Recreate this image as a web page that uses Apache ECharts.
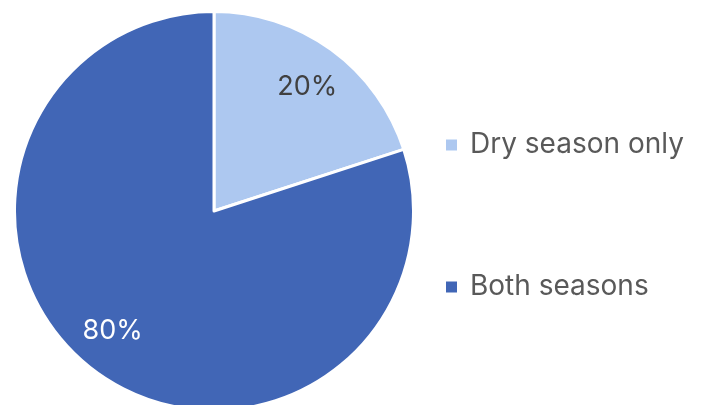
<!DOCTYPE html>
<html><head><meta charset="utf-8">
<script src="https://cdn.jsdelivr.net/npm/echarts@6/dist/echarts.min.js"></script>
<style>html,body{margin:0;padding:0;background:#fff}#c{width:703px;height:405px}</style>
</head><body><div id="c"></div>
<script>
const categories = ['Dry season only', 'Both seasons'];
const values = [20, 80];
const colors = ['#ADC8F0', '#4166B6'];
const labelColors = ['#404040', '#ffffff'];

const font = 'Inter, "Open Sans", sans-serif';
const chart = echarts.init(document.getElementById('c'), null, {renderer: 'canvas'});
const mainData = categories.map((n, i) => ({name: n, value: values[i], itemStyle: {color: colors[i]}}));
const labelOffsets = [[1, 3], [-9, -7]];
const labelData = categories.map((n, i) => ({name: n, value: values[i], label: {color: labelColors[i], offset: labelOffsets[i]}}));
chart.setOption({
  animation: false,
  legend: {
    orient: 'vertical', left: 439, top: 125,
    itemWidth: 13, itemHeight: 13, itemGap: 112, icon: 'rect',
    textStyle: {fontSize: 28, lineHeight: 30, color: '#595959', fontFamily: font, padding: [0,0,0,7]},
    data: categories.map((n, i) => ({name: n, itemStyle: {color: colors[i]}}))
  },
  series: [{
    type: 'pie', center: [214, 211], radius: 199.5, startAngle: 90, clockwise: true,
    label: {show: false}, labelLine: {show: false},
    itemStyle: {borderColor: '#ffffff', borderWidth: 3},
    silent: true, data: mainData
  }, {
    type: 'pie', center: [214, 211], radius: 308, startAngle: 90, clockwise: true,
    itemStyle: {color: 'rgba(0,0,0,0)'},
    label: {show: true, position: 'inside', formatter: p => Math.round(p.percent) + '%', fontSize: 27, fontFamily: font},
    labelLine: {show: false}, silent: true, legendHoverLink: false,
    data: labelData
  }]
});
</script></body></html>
